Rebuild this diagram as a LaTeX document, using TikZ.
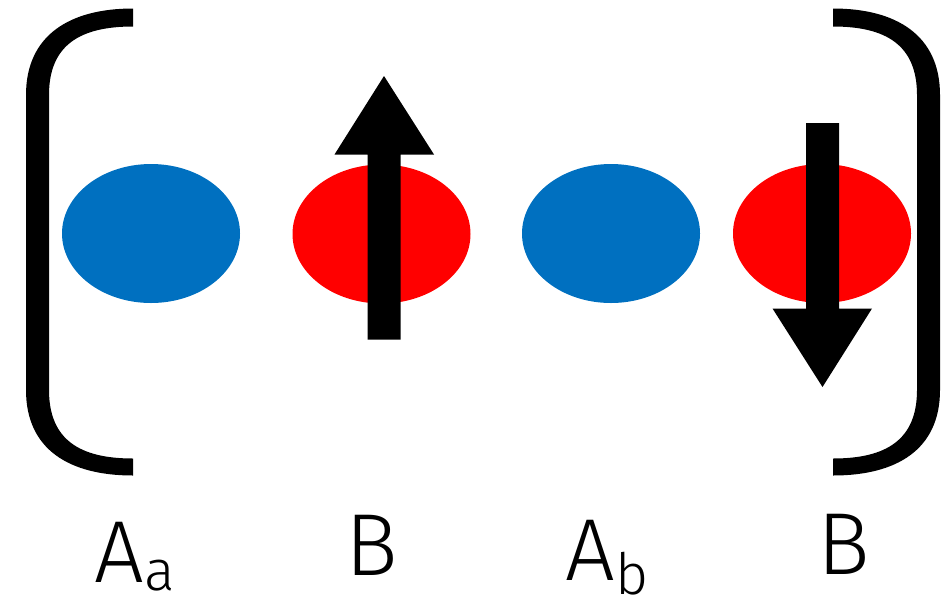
\documentclass[tikz,border=0pt]{standalone}
\usepackage{fontspec}
\usetikzlibrary{shapes.geometric}
\newfontfamily\labfont{Fira Sans Light}
\definecolor{atomblue}{RGB}{0,112,192}
\definecolor{atomred}{RGB}{255,0,0}
\begin{document}
\begin{tikzpicture}[x=1pt,y=-1pt,
  atom/.style={ellipse,minimum width=178pt,minimum height=139pt,inner sep=0pt,draw=none},
  spin/.style={fill=black},
  bracketshape/.style={fill=black},
  lab/.style={anchor=base,inner sep=0pt,text depth=0pt,font=\labfont\fontsize{88}{88}\selectfont}]
\useasboundingbox (0,0) rectangle (952,595);
% brackets
\path[bracketshape] (133,8.5) .. controls (70,8.5) and (26,35) .. (26,95) -- (26,390)
  .. controls (26,450) and (70,475.5) .. (133,475.5) -- (133,458.5)
  .. controls (80,458.5) and (49,440) .. (49,390) -- (49,95)
  .. controls (49,45) and (80,26.5) .. (133,26.5) -- cycle;
\path[bracketshape] (833,8.5) .. controls (896,8.5) and (940,35) .. (940,95) -- (940,390)
  .. controls (940,450) and (896,475.5) .. (833,475.5) -- (833,458.5)
  .. controls (886,458.5) and (917,440) .. (917,390) -- (917,95)
  .. controls (917,45) and (886,26.5) .. (833,26.5) -- cycle;
% atoms
\node[atom,fill=atomblue] (a1) at (151,233.5) {};
\node[atom,fill=atomred] (b1) at (381.5,234) {};
\node[atom,fill=atomblue] (a2) at (611,233.5) {};
\node[atom,fill=atomred] (b2) at (822,233.5) {};
% spins
\path[spin] (367.5,339.5) -- (367.5,154.5) -- (334.5,154.5) -- (384,76) -- (434,154.5)
  -- (400.5,154.5) -- (400.5,339.5) -- cycle;
\path[spin] (806,123) -- (806,308.5) -- (772.5,308.5) -- (822.5,387) -- (872,308.5)
  -- (839,308.5) -- (839,123) -- cycle;
% labels
\node[lab] (la1) at (135,582) {A\raisebox{-8pt}{\fontsize{57}{57}\selectfont a}};
\node[lab] (lb1) at (371.5,575) {B};
\node[lab] (la2) at (607,580) {A\raisebox{-14pt}{\fontsize{57}{57}\selectfont b}};
\node[lab] (lb2) at (844,574) {B};
\end{tikzpicture}
\end{document}
